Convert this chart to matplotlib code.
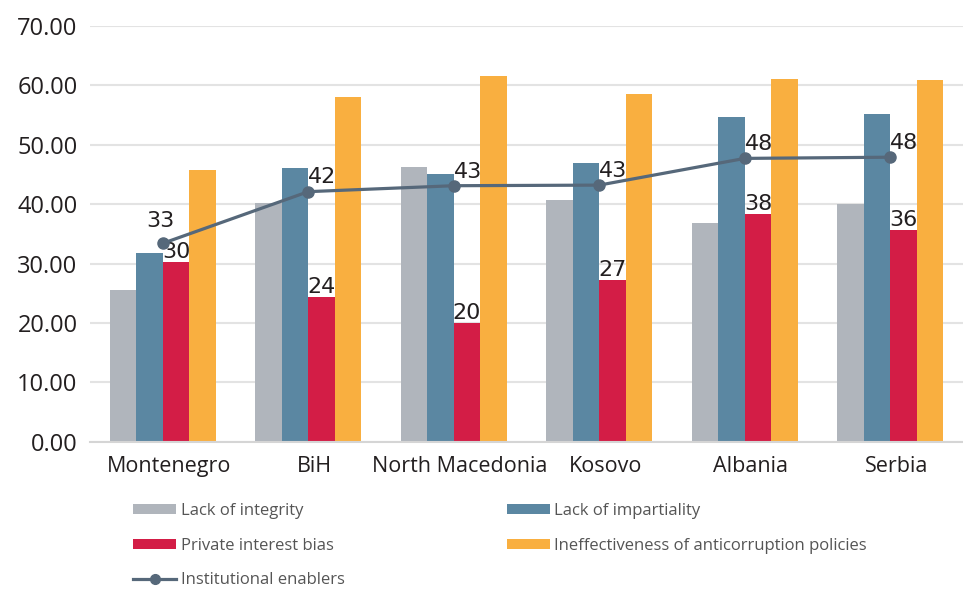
import matplotlib
matplotlib.use("Agg")
import matplotlib.pyplot as plt
import matplotlib.transforms as mtransforms
import numpy as np
from matplotlib.lines import Line2D
from matplotlib.patches import Patch

categories = ["Montenegro", "BiH", "North Macedonia", "Kosovo", "Albania", "Serbia"]
lack_integrity = [25.5, 40.2, 46.3, 40.7, 36.9, 40.0]
lack_impartiality = [31.8, 46.0, 45.0, 46.9, 54.6, 55.1]
private_interest = [30.2, 24.4, 20.0, 27.3, 38.3, 35.6]
ineffectiveness = [45.7, 58.1, 61.6, 58.5, 61.1, 60.9]
institutional = [33.4, 42.1, 43.1, 43.2, 47.7, 47.9]
yticks = [0, 10, 20, 30, 40, 50, 60, 70]

c_gray = "#B0B5BC"
c_blue = "#5B87A2"
c_red = "#D31D46"
c_orange = "#F9AF40"
c_line = "#56687A"
txt = "#231F20"

plt.rcParams['font.family'] = ['Open Sans', 'DejaVu Sans']

fig = plt.figure(figsize=(9.63, 5.90), dpi=100)
ax = fig.add_axes([0.0935, 0.2514, 0.9065, 0.7046])

x = np.arange(len(categories))
w = 0.182
series = [lack_integrity, lack_impartiality, private_interest, ineffectiveness]
colors = [c_gray, c_blue, c_red, c_orange]
for i, (vals, col) in enumerate(zip(series, colors)):
    ax.bar(x + (i - 1.5) * w, vals, width=w, color=col, zorder=2)

# red bar labels
for xi, v in zip(x, private_interest):
    ax.annotate(f"{round(v):d}", (xi + 0.5 * w, v), xytext=(0, 0), textcoords="offset points",
                ha="center", va="bottom", fontsize=16, color=txt, zorder=4,
                fontfamily="DejaVu Sans")

ax.plot(x, institutional, color=c_line, lw=2.3, marker="o", markersize=8, zorder=5)
for k, (xi, v) in enumerate(zip(x, institutional)):
    if k == 0:
        ax.annotate(f"{round(v):d}", (xi, v), xytext=(-2, 9), textcoords="offset points",
                    ha="center", va="bottom", fontsize=16, color=txt, zorder=6,
                    fontfamily="DejaVu Sans")
    else:
        ax.annotate(f"{round(v):d}", (xi, v), xytext=(0, 3), textcoords="offset points",
                    ha="left", va="bottom", fontsize=16, color=txt, zorder=6,
                    fontfamily="DejaVu Sans")

ax.set_xlim(-0.5, 5.5)
ax.set_ylim(0, 70)
ax.set_yticks(yticks)
ax.set_yticklabels([f"{t:.2f}" for t in yticks])
ax.set_xticks(x)
ax.set_xticklabels(categories)
ax.tick_params(axis="y", length=0, pad=9, labelsize=17, labelcolor=txt)
ax.tick_params(axis="x", length=0, pad=10, labelsize=15.5, labelcolor=txt)
shift = mtransforms.ScaledTranslation(6 / 100, 0, fig.dpi_scale_trans)
for lbl in ax.get_xticklabels():
    lbl.set_transform(lbl.get_transform() + shift)
ax.grid(axis="y", color="#E3E3E3", lw=1.5, zorder=0)
ax.set_axisbelow(True)
for s in ["top", "right", "left"]:
    ax.spines[s].set_visible(False)
ax.spines["bottom"].set_color("#D5D5D5")
ax.spines["bottom"].set_linewidth(1.5)

handles1 = [
    Patch(facecolor=c_gray, label="Lack of integrity"),
    Patch(facecolor=c_red, label="Private interest bias"),
    Line2D([0], [0], color=c_line, lw=2.3, marker="o", markersize=7, label="Institutional enablers"),
]
handles2 = [
    Patch(facecolor=c_blue, label="Lack of impartiality"),
    Patch(facecolor=c_orange, label="Ineffectiveness of anticorruption policies"),
]
common = dict(loc="upper left", frameon=False, fontsize=12, handlelength=2.6, handleheight=0.55,
              handletextpad=0.25, labelspacing=1.12, labelcolor="#555555",
              borderaxespad=0, borderpad=0)
leg1 = fig.legend(handles=handles1, bbox_to_anchor=(133 / 963, 1 - 503 / 590), **common)
leg2 = fig.legend(handles=handles2, bbox_to_anchor=(507 / 963, 1 - 503 / 590), **common)

fig.savefig("out.png", dpi=100)
